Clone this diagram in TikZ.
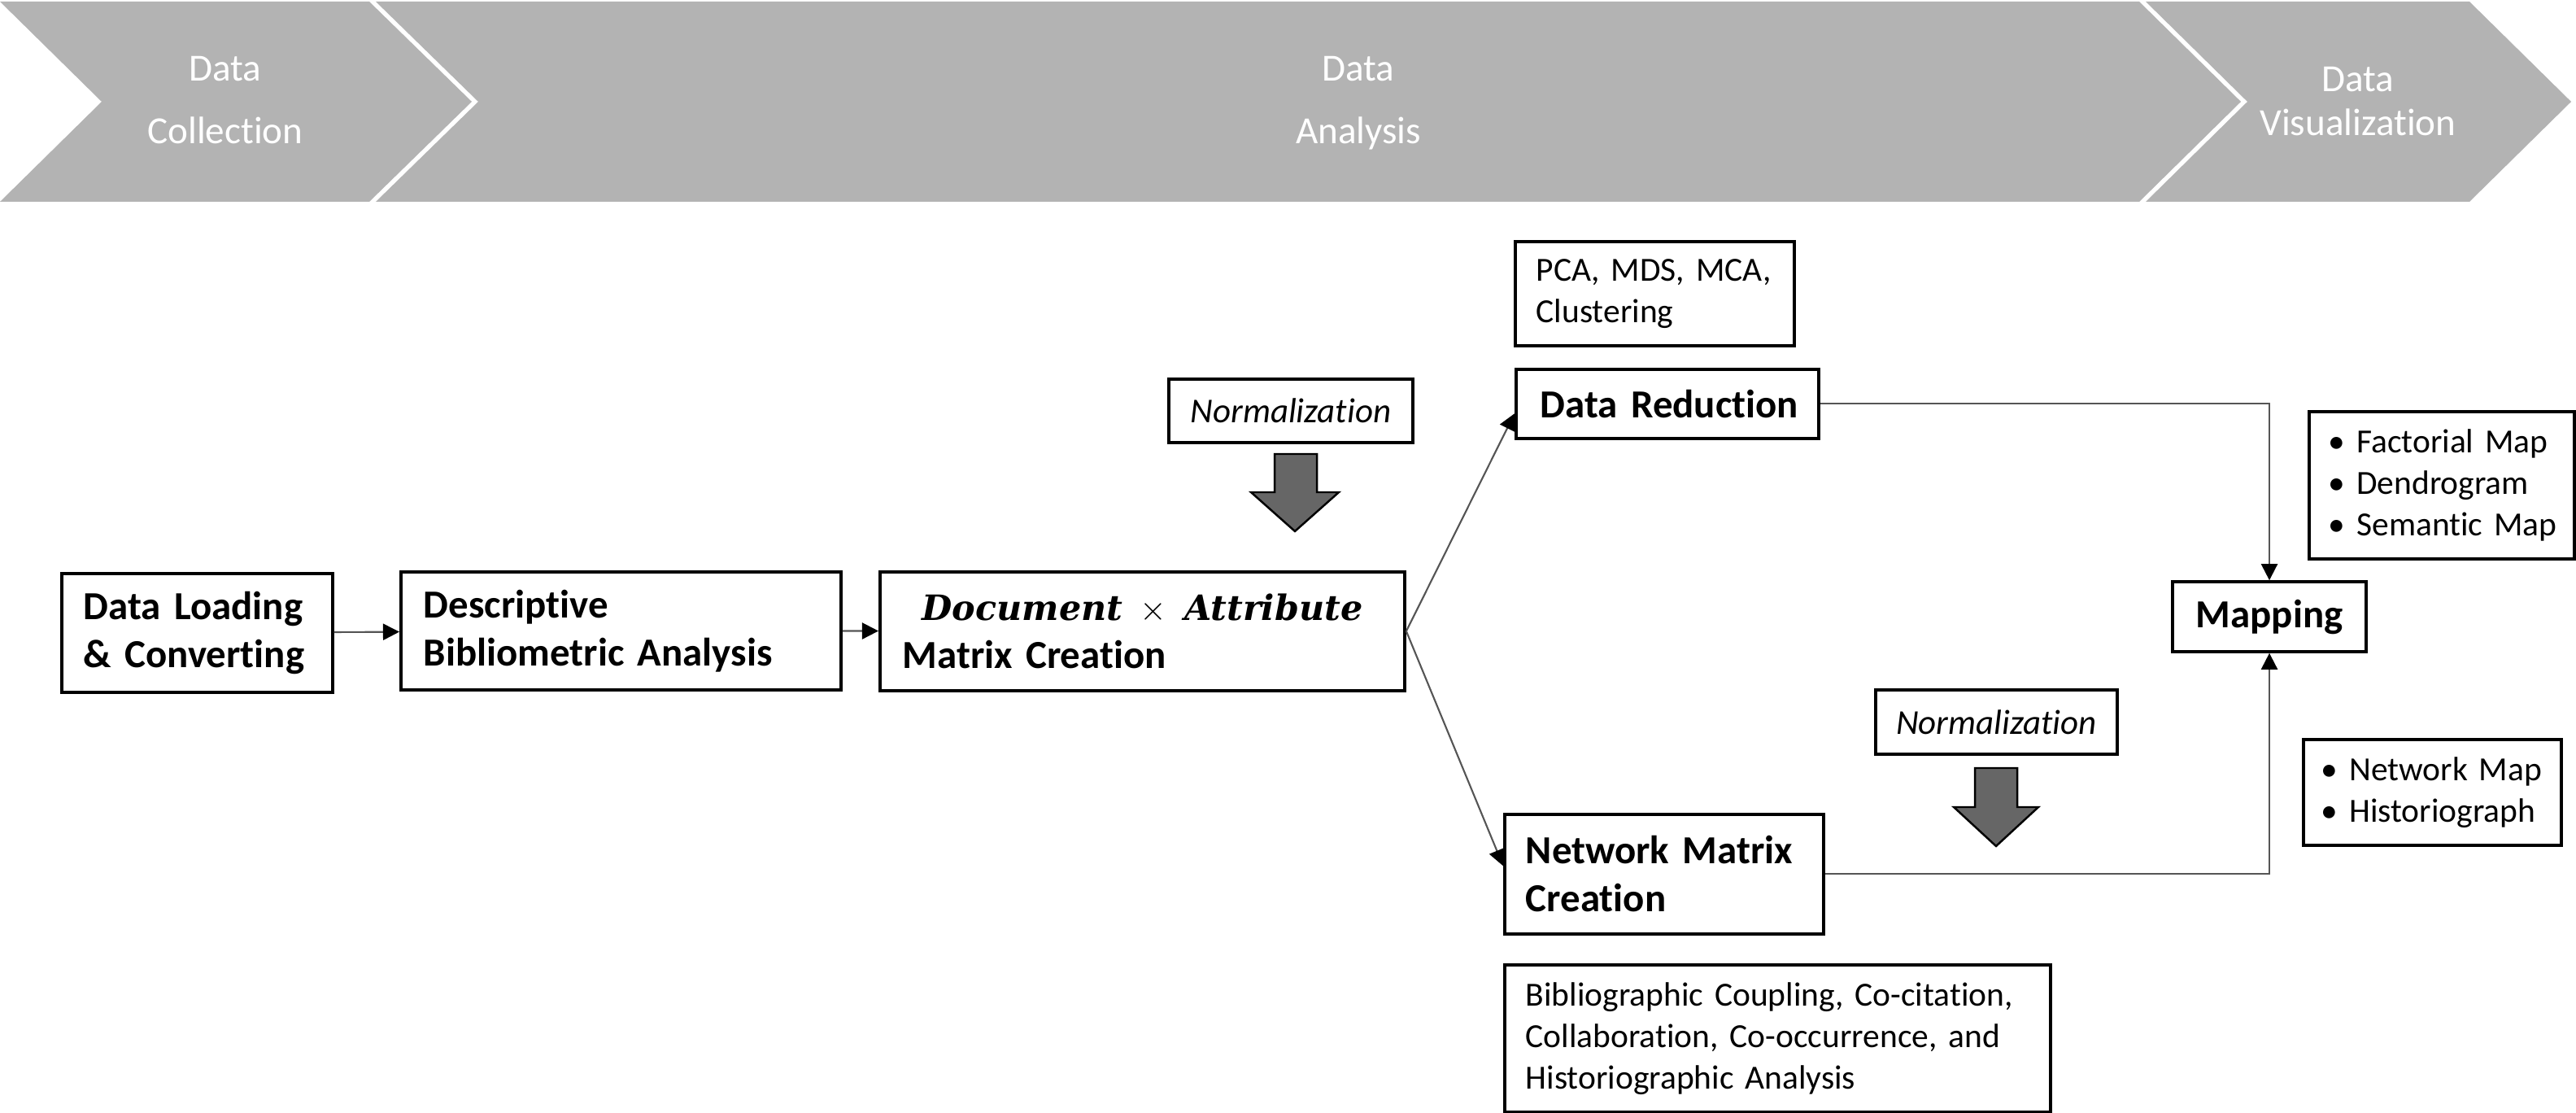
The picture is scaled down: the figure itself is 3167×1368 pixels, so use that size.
\documentclass[tikz,border=0pt]{standalone}
\usepackage{fontspec}
\setmainfont{Carlito}[Ligatures={NoCommon}]
\newfontfamily\djvserif{DejaVu Serif}
\usetikzlibrary{arrows.meta,calc}
\definecolor{chev}{HTML}{B3B3B3}
\definecolor{blk}{HTML}{666666}
\definecolor{lnk}{HTML}{555555}
\begin{document}
\begin{tikzpicture}[x=0.01cm,y=-0.01cm,
  chevtext/.style={text=white, font=\fontsize{13.4}{21.9}\selectfont, align=center, inner sep=0pt, anchor=base},
  bx/.style={draw=black, line width=1pt, fill=white, inner ysep=0pt, anchor=north west, align=left},
  bold/.style={font=\fontsize{13.9}{16.8}\selectfont\bfseries},
  reg/.style={font=\fontsize{11.8}{14.5}\selectfont},
  ital/.style={font=\fontsize{12.2}{14.5}\selectfont\itshape},
  conn/.style={draw=lnk, line width=0.6pt, -{Triangle[length=5.7pt,width=5.7pt,color=black]}},
  blockarrow/.style={draw=black, line width=0.7pt, fill=blk}]
\useasboundingbox (0,0) rectangle (3167,1368);
\fill[white] (0,0) rectangle (3167,1368);
% chevrons
\fill[chev] (0,2) -- (454,2) -- (580,125) -- (454,248) -- (0,248) -- (125,125) -- cycle;
\fill[chev] (462,2) -- (2630,2) -- (2755,125) -- (2630,248) -- (462,248) -- (588,125) -- cycle;
\fill[chev] (2638,2) -- (3036,2) -- (3161,125) -- (3036,248) -- (2638,248) -- (2763,125) -- cycle;
\node[chevtext] (t1) at (277,177) {Data\\Collection};
\node[chevtext] (t2) at (1670,177) {Data\\Analysis};
\node[chevtext, font=\fontsize{13.4}{15.6}\selectfont] (t3) at (2899,167) {Data\\Visualization};
% boxes
\node[bx,bold,text width=2.79cm,inner xsep=0.27cm,minimum height=1.46cm] (load) at (74,703) {\mbox{Data Loading}\\\mbox{\& Converting}};
\node[bx,bold,text width=4.85cm,inner xsep=0.28cm,minimum height=1.45cm] (desc) at (491,701) {Descriptive\\\mbox{Bibliometric Analysis}};
\node[bx,bold,text width=5.89cm,inner xsep=0.28cm,minimum height=1.46cm] (mat) at (1080,701)
  {\makebox[5.89cm][c]{\fontsize{12.2}{15}\selectfont{\djvserif\bfseries\itshape Document}\enspace$\times$\enspace{\djvserif\bfseries\itshape Attribute}}\\Matrix Creation};
\node[bx,ital,anchor=center,align=center,minimum width=3cm,minimum height=0.78cm] (norm1) at (1587,505) {Normalization};
\draw[blockarrow] (1567,558) -- (1619,558) -- (1619,605) -- (1646,605) -- (1592,653) -- (1538,605) -- (1567,605) -- cycle;
\node[bx,bold,text width=3.12cm,inner xsep=0.30cm,minimum height=0.85cm] (dr) at (1862,452) {\mbox{Data Reduction}};
\node[bx,reg,text width=2.91cm,inner xsep=0.26cm,minimum height=1.28cm] (pca) at (1861,295) {\mbox{PCA, MDS, MCA,}\\Clustering};
\node[bx,bold,anchor=center,align=center,minimum width=2.38cm,minimum height=0.86cm] (map) at (2790,758) {Mapping};
\node[bx,reg,text width=2.78cm,inner xsep=0.24cm,minimum height=1.81cm] (fact) at (2837,504) {\mbox{• Factorial Map}\\• Dendrogram\\\mbox{• Semantic Map}};
\node[bx,ital,anchor=center,align=center,minimum width=2.97cm,minimum height=0.79cm] (norm2) at (2454.5,887.5) {Normalization};
\draw[blockarrow] (2428,944) -- (2480,944) -- (2480,992) -- (2506,992) -- (2454,1040) -- (2402,992) -- (2428,992) -- cycle;
\node[bx,bold,text width=3.40cm,inner xsep=0.26cm,minimum height=1.47cm] (nm) at (1848,999) {\mbox{Network Matrix}\\Creation};
\node[bx,reg,text width=2.73cm,inner xsep=0.22cm,minimum height=1.30cm] (netmap) at (2830,907) {\mbox{• Network Map}\\\mbox{• Historiograph}};
\node[bx,reg,text width=6.19cm,inner xsep=0.26cm,minimum height=1.81cm] (bib) at (1848,1184) {\mbox{Bibliographic Coupling, Co-citation,}\\\mbox{Collaboration, Co-occurrence, and}\\Historiographic Analysis};
% connectors
\draw[conn] (load) -- (desc);
\draw[conn] (desc) -- (mat);
\draw[conn] (mat.east) -- ($(dr.west)+(0,12)$);
\draw[conn] (mat.east) -- ($(nm.west)+(0,-10)$);
\draw[conn] (dr.east) -| (map.north);
\draw[conn] (nm.east) -| (map.south);
\end{tikzpicture}
\end{document}
